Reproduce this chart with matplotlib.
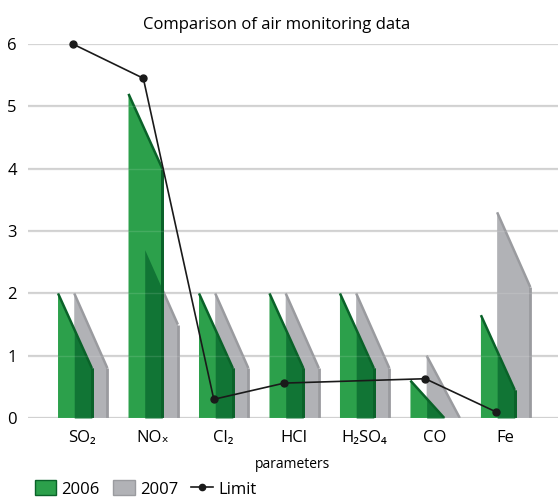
import numpy as np
import matplotlib.pyplot as plt
from matplotlib.patches import Polygon, Patch
from matplotlib.lines import Line2D

plt.rcParams['font.family'] = ['Open Sans', 'DejaVu Sans']

categories = ['SO₂', 'NOₓ', 'Cl₂', 'HCl', 'H₂SO₄', 'CO', 'Fe']
vals_2006 = [2.0, 5.2, 2.0, 2.0, 2.0, 0.6, 1.65]
vals_2007 = [2.0, 2.7, 2.0, 2.0, 2.0, 1.0, 3.3]
limit = [6.0, 5.45, 0.3, 0.56, np.nan, 0.63, 0.1]

green = '#2ca04b'
green_dark = '#117535'
green_edge = '#0a6229'
grey = '#b1b2b6'
grey_edge = '#9a9b9f'

drop = 1.2  # fake-3D slope on top of each column

fig = plt.figure(figsize=(5.6, 5.0), dpi=100)
ax = fig.add_axes([0.05, 0.164, 0.946, 0.748])


def top_line(x0, x1, v):
    vr = max(v - drop, 0)
    return lambda x: v + (vr - v) * (x - x0) / (x1 - x0), vr


def column(x0, x1, v, face, edge, z):
    f, vr = top_line(x0, x1, v)
    ax.add_patch(Polygon([(x0, 0), (x0, v), (x1, vr), (x1, 0)], closed=True,
                         facecolor=face, edgecolor='none', zorder=z))
    ax.plot([x0, x1], [v, vr], color=edge, lw=1.8, solid_capstyle='butt', zorder=z + 0.5)
    ax.plot([x1, x1], [0, vr], color=edge, lw=2.0, solid_capstyle='butt', zorder=z + 0.5)
    return f


for i in range(len(categories)):
    g0, g1 = i - 0.34, i + 0.14
    s0, s1 = i - 0.11, i + 0.36
    f_grey = column(s0, s1, vals_2007[i], grey, grey_edge, 2)
    f_green = column(g0, g1, vals_2006[i], green, green_edge, 3)
    # where the green column sits in front of the grey one
    xs = np.linspace(s0, g1, 60)
    ys = np.minimum(f_green(xs), f_grey(xs))
    ax.fill_between(xs, 0, ys, color=green_dark, lw=0, zorder=3.2)
    ax.plot([g1, g1], [0, max(vals_2006[i] - drop, 0)], color=green_edge, lw=2.0,
            solid_capstyle='butt', zorder=3.6)

# faint grid showing through the columns
for v in range(7):
    ax.axhline(v, color='#d0d0d0', lw=1.6, zorder=1)
    ax.axhline(v, color='white', lw=1.0, alpha=0.12, zorder=3.8)

lim = np.array(limit)
xl = np.arange(len(categories)) - 0.13
ok = ~np.isnan(lim)
ax.plot(xl[ok], lim[ok], color='#1a1a1a', lw=1.2, marker='o', ms=5, zorder=6, clip_on=False)

ax.set_xlim(-0.766, 6.75)
ax.set_ylim(0, 6)
ax.set_xticks(range(len(categories)))
ax.set_xticklabels(categories, fontsize=12)
ax.set_yticks(range(7))
ax.set_yticklabels([str(v) for v in range(7)], fontsize=12)
ax.tick_params(length=0, pad=9)
ax.tick_params(axis='y', pad=8)
for s in ax.spines.values():
    s.set_visible(False)
ax.set_xlabel('parameters', fontsize=10)
ax.xaxis.set_label_coords(0.5, -0.105)
ax.set_title('Comparison of air monitoring data', fontsize=12, pad=11, x=0.47)

handles = [Patch(facecolor=green, edgecolor=green_edge),
           Patch(facecolor=grey, edgecolor=grey_edge),
           Line2D([0], [0], color='#1a1a1a', lw=1.2, marker='o', ms=4.5)]
fig.legend(handles, ['2006', '2007', 'Limit'], loc='lower left', bbox_to_anchor=(0.035, -0.025),
           ncol=3, frameon=False, fontsize=12, handlelength=1.3, handleheight=1.0,
           handletextpad=0.3, columnspacing=0.8)

fig.savefig('out.png', dpi=100)
